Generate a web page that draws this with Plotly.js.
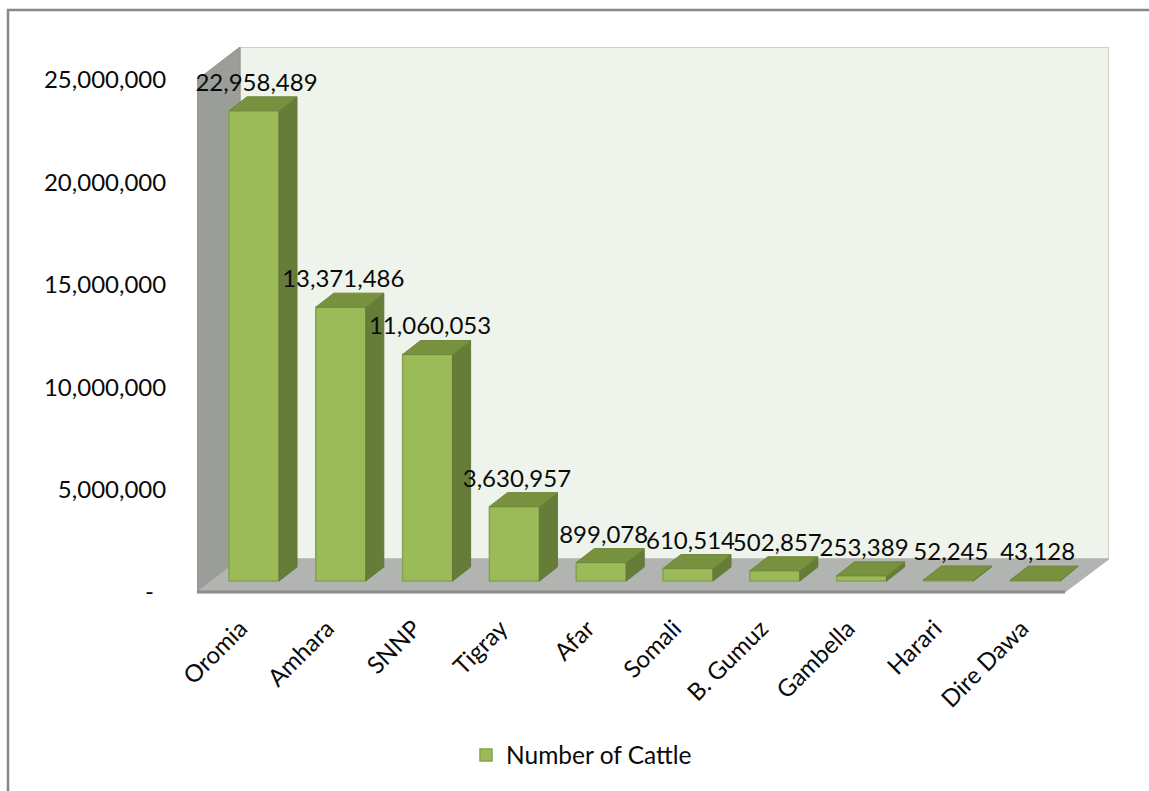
<!DOCTYPE html>
<html>
<head>
<meta charset="utf-8">
<script src="https://cdn.plot.ly/plotly-3.0.1.min.js"></script>
<style>html,body{margin:0;padding:0;background:#fff}</style>
</head>
<body>
<div id="chart" style="width:1149px;height:791px"></div>
<script>
const regions = ["Oromia","Amhara","SNNP","Tigray","Afar","Somali","B. Gumuz","Gambella","Harari","Dire Dawa"];
const cattle = [22958489,13371486,11060053,3630957,899078,610514,502857,253389,52245,43128];
const yTickValues = [0,5000000,10000000,15000000,20000000,25000000];
const yTickLabels = ["-\u00a0\u00a0","5,000,000","10,000,000","15,000,000","20,000,000","25,000,000"];

// chart geometry (px)
const W = 1149, H = 791, PL = 197, PR = 1109, PT = 47, PB = 595, Y0 = 592;
const pxPerCat = 86.8, pxPerVal = 20.48 / 1e6;
const xLo = -0.5, xHi = xLo + (PR - PL) / pxPerCat;
const yLo = -(PB - Y0) / pxPerVal, yHi = (Y0 - PT) / pxPerVal;
const dx = px => px / pxPerCat, dy = px => px / pxPerVal;

const barWidth = dx(50), barShift = dx(13.6), barBase = dy(11);
const depthX = dx(18), depthY = dy(14);
const wallX = dx(43), wallY = dy(33);

const idx = regions.map((_, i) => i);
const sideX = [], sideY = [], topX = [], topY = [];
idx.forEach(i => {
  const l = i + barShift - barWidth / 2, r = l + barWidth;
  const b = barBase, t = barBase + cattle[i];
  sideX.push(r, r + depthX, r + depthX, r, r, null);
  sideY.push(b, b + depthY, t + depthY, t, b, null);
  topX.push(l, r, r + depthX, l + depthX, l, null);
  topY.push(t, t, t + depthY, t + depthY, t, null);
});

const font = {family: "Lato, Carlito, sans-serif", color: "#0a0a0a", size: 24};

const traces = [
  {type: "bar", name: "Number of Cattle", x: idx, y: cattle, base: barBase, width: barWidth,
   offset: barShift - barWidth / 2,
   marker: {color: "#9BBB59", line: {color: "#86A34A", width: 1.5}}, hoverinfo: "skip"},
  {type: "scatter", mode: "lines", x: sideX, y: sideY, fill: "toself", fillcolor: "#667C39",
   line: {color: "#62783A", width: 1}, showlegend: false, hoverinfo: "skip"},
  {type: "scatter", mode: "lines", x: topX, y: topY, fill: "toself", fillcolor: "#77913F",
   line: {color: "#70893C", width: 1}, showlegend: false, hoverinfo: "skip"},
  {type: "scatter", mode: "text", x: idx.map(i => i + barShift + dx(2.5)), y: cattle.map(v => barBase + v + dy(26)),
   text: cattle.map(v => v.toLocaleString("en-US")), textposition: "middle center",
   textfont: font, cliponaxis: false, showlegend: false, hoverinfo: "skip"}
];

const px2paperX = p => (p - PL) / (PR - PL);
const px2paperY = p => (PB - p) / (PB - PT);

const layout = {
  width: W, height: H, autosize: false,
  margin: {l: PL, r: W - PR, t: PT, b: H - PB, pad: 0},
  paper_bgcolor: "#fff", plot_bgcolor: "rgba(0,0,0,0)",
  font: font,
  barmode: "overlay",
  xaxis: {type: "linear", range: [xLo, xHi], tickmode: "array", tickvals: idx, ticktext: regions,
          tickangle: -45, ticks: "outside", ticklen: 9, tickcolor: "rgba(0,0,0,0)",
          showgrid: false, zeroline: false, showline: false, tickfont: font},
  yaxis: {type: "linear", range: [yLo, yHi], tickmode: "array", tickvals: yTickValues, ticktext: yTickLabels,
          ticks: "outside", ticklen: 25, tickcolor: "rgba(0,0,0,0)",
          showgrid: false, zeroline: false, showline: false, tickfont: font},
  showlegend: true,
  legend: {orientation: "h", x: px2paperX(466), xanchor: "left", y: px2paperY(755), yanchor: "middle",
           font: {family: font.family, color: font.color, size: 24.5}, bgcolor: "rgba(0,0,0,0)"},
  shapes: [
    // outer frame
    {type: "rect", xref: "paper", yref: "paper", layer: "below",
     x0: px2paperX(8), x1: px2paperX(W + 20), y0: px2paperY(10), y1: px2paperY(H + 20),
     line: {color: "#888888", width: 2.5}, fillcolor: "rgba(0,0,0,0)"},
    // back wall
    {type: "rect", layer: "below", x0: xLo + wallX, x1: xHi, y0: wallY, y1: yHi,
     line: {color: "#CFCFCB", width: 2}, fillcolor: "#EEF4EB"},
    // side wall
    {type: "path", layer: "below",
     path: `M${xLo},0 L${xLo + wallX},${wallY} L${xLo + wallX},${yHi} L${xLo},25000000 Z`,
     line: {color: "#8F918E", width: 1}, fillcolor: "#9B9D99"},
    // floor
    {type: "path", layer: "below",
     path: `M${xLo},0 L${xLo + 10},0 L${xHi},${wallY} L${xLo + wallX},${wallY} Z`,
     line: {color: "#B2B4B2", width: 1}, fillcolor: "#B2B4B2"},
    // floor front edge
    {type: "line", layer: "below", x0: xLo, x1: xLo + 10, y0: 0, y1: 0,
     line: {color: "#8C8C8C", width: 3}}
  ]
};

Plotly.newPlot("chart", traces, layout, {displayModeBar: false, staticPlot: true});
</script>
</body>
</html>
